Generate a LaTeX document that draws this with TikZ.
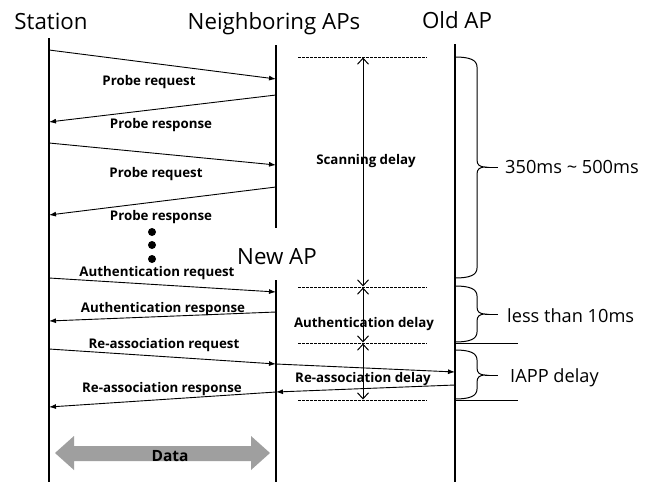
\documentclass[tikz,border=0pt]{standalone}
\usepackage{fontspec}
\setmainfont{Open Sans}
\usetikzlibrary{arrows.meta}

\tikzset{
  title/.style={font=\fontsize{22.3}{25}\selectfont, inner sep=0pt, anchor=base},
  msg/.style={font=\bfseries\fontsize{13.3}{15}\selectfont, inner sep=0pt, anchor=base},
  note/.style={font=\fontsize{18.2}{21}\selectfont, inner sep=0pt, anchor=base west},
  lifeline/.style={line width=1.3pt},
  signal/.style={line width=0.9pt, -{Latex[length=7pt,width=5pt]}},
  delayspan/.style={line width=1pt, shorten <=0.5pt, shorten >=0.5pt,
    {Straight Barb[length=6pt,width=11pt]}-{Straight Barb[length=6pt,width=11pt]}},
  bound/.style={line width=0.7pt, dash pattern=on 2.5pt off 1.5pt},
  bracepen/.style={line width=1pt},
  datafill/.style={fill=gray!75},
  dot/.style={circle, fill=black, minimum size=8pt, inner sep=0pt}
}

% curly brace on the right of the Old AP line: #1 top, #2 tip, #3 bottom
\newcommand\timebrace[3]{%
  \draw[bracepen] (455,#1) .. controls (470,#1) and (477,{#1+3}) .. (477,{#1+10})
    -- (477,{#2-7}) .. controls (477,{#2-2}) and (480,#2) .. (485,#2)
    .. controls (480,#2) and (477,{#2+2}) .. (477,{#2+7})
    -- (477,{#3-10}) .. controls (477,{#3-3}) and (470,#3) .. (455,#3);
  \draw[bracepen] (485,#2) -- (498,#2);}

\begin{document}
\begin{tikzpicture}[x=1pt,y=-1pt]
\fill[white] (0,0) rectangle (655,482);
\useasboundingbox (0,0) rectangle (655,482);

% column headings
\node[title] (hStation) at (51,29) {Station};
\node[title] (hNeighbor) at (274,29) {Neighboring APs};
\node[title] (hOld) at (457,28) {Old AP};
\node[title] (hNew) at (277,264) {New AP};

% lifelines
\coordinate (stTop) at (49,38);   \coordinate (stBot) at (49,482);
\coordinate (nbTop) at (276,45);  \coordinate (nbBot) at (276,228);
\coordinate (nwTop) at (276,280); \coordinate (nwBot) at (276,482);
\coordinate (odTop) at (455,44);  \coordinate (odBot) at (455,482);
\draw[lifeline] (stTop) -- (stBot);
\draw[lifeline] (nbTop) -- (nbBot);
\draw[lifeline] (nwTop) -- (nwBot);
\draw[lifeline] (odTop) -- (odBot);

% message end points
\coordinate (s1) at (49,50);  \coordinate (n1) at (276,79);
\coordinate (n2) at (276,95); \coordinate (s2) at (49,122);
\coordinate (s3) at (49,143); \coordinate (n3) at (276,165);
\coordinate (n4) at (276,187);\coordinate (s4) at (49,215);
\coordinate (s5) at (49,278); \coordinate (a5) at (276,292);
\coordinate (a6) at (276,312);\coordinate (s6) at (49,321);
\coordinate (s7) at (49,349); \coordinate (a7) at (276,364); \coordinate (o7) at (455,372);
\coordinate (o8) at (455,385);\coordinate (a8) at (276,392); \coordinate (s8) at (49,407);

% messages
\draw[signal] (s1) -- (n1);
\draw[signal] (n2) -- (s2);
\draw[signal] (s3) -- (n3);
\draw[signal] (n4) -- (s4);
\draw[signal] (s5) -- (a5);
\draw[signal] (a6) -- (s6);
\draw[signal] (s7) -- (a7);
\draw[signal] (a7) -- (o7);
\draw[signal] (o8) -- (a8);
\draw[signal] (a8) -- (s8);

\node[msg] (m1) at (149,85) {Probe request};
\node[msg] (m2) at (161,128) {Probe response};
\node[msg] (m3) at (156,177) {Probe request};
\node[msg] (m4) at (161,220) {Probe response};
\node[msg] (m5) at (157,276) {Authentication request};
\node[msg] (m6) at (163,312) {Authentication response};
\node[msg] (m7) at (164,348) {Re-association request};
\node[msg] (m8) at (162,392) {Re-association response};

% ellipsis between the probe rounds
\node[dot] (dot1) at (152,232) {};
\node[dot] (dot2) at (152,245) {};
\node[dot] (dot3) at (152,259) {};

% delay boundaries
\coordinate (b1l) at (298,57);  \coordinate (b1r) at (427,57);
\coordinate (b2l) at (298,287); \coordinate (b2r) at (427,287);
\coordinate (b3l) at (298,343); \coordinate (b3r) at (427,343);
\coordinate (b4l) at (298,400); \coordinate (b4r) at (427,400);
\draw[bound] (b1l) -- (b1r);
\draw[bound] (b2l) -- (b2r);
\draw[bound] (b3l) -- (b3r);
\draw[bound] (b4l) -- (b4r);

\coordinate (v1) at (363,57);
\coordinate (v2) at (363,287);
\coordinate (v3) at (363,343);
\coordinate (v4) at (363,400);
\draw[delayspan] (v1) -- (v2);
\draw[delayspan] (v2) -- (v3);
\draw[delayspan] (v3) -- (v4);

\node[msg] (dScan) at (366,164) {Scanning delay};
\node[msg] (dAuth) at (364,327) {Authentication delay};
\node[msg] (dReas) at (363,382) {Re-association delay};

% timing braces
\timebrace{57}{167}{278}
\timebrace{286}{314}{342}
\timebrace{350}{375}{399}
\coordinate (h1) at (455,343); \coordinate (h1e) at (518,343);
\coordinate (h2) at (455,400); \coordinate (h2e) at (518,400);
\draw[bracepen] (h1) -- (h1e);
\draw[bracepen] (h2) -- (h2e);

\node[note] (t1) at (505,173) {350ms \textasciitilde{} 500ms};
\node[note] (t2) at (507,322) {less than 10ms};
\node[note] (t3) at (510,382) {IAPP delay};

% data phase: wide grey two-headed arrow
\fill[datafill] (55,453) -- (74,436) -- (74,446) -- (251,446) -- (251,436)
  -- (270,453) -- (251,470) -- (251,461) -- (74,461) -- (74,470) -- cycle;
\node[msg, font=\bfseries\fontsize{15.5}{17}\selectfont] (dataLbl) at (170,461) {Data};
\end{tikzpicture}
\end{document}
